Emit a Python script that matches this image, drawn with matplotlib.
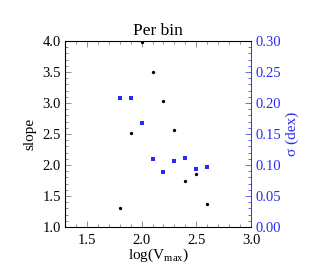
import numpy as np
import matplotlib
matplotlib.use('Agg')
import matplotlib.pyplot as plt
from matplotlib.ticker import MultipleLocator

plt.rcParams['font.family'] = ['Liberation Serif', 'DejaVu Serif']
plt.rcParams['mathtext.fontset'] = 'custom'
plt.rcParams['mathtext.rm'] = 'Liberation Serif'
plt.rcParams['mathtext.it'] = 'Liberation Serif:italic'

# data
logv = [1.8, 1.9, 2.0, 2.1, 2.2, 2.3, 2.4, 2.5, 2.6]
slope = [1.30, 2.51, 3.98, 3.50, 3.03, 2.56, 1.74, 1.86, 1.37]
sigma = [0.208, 0.208, 0.167, 0.109, 0.089, 0.106, 0.112, 0.093, 0.097]

blue = '#2a2af2'
grey = '#666666'

fig = plt.figure(figsize=(3.16, 2.67), dpi=100)
ax = fig.add_axes([65/316, 1 - 227/267, 186/316, 186/267])
ax.plot(logv, slope, 'o', color='black', ms=2.4, mew=0)
ax.set_xlim(1.3, 3.0)
ax.set_ylim(1.0, 4.0)
ax.xaxis.set_major_locator(MultipleLocator(0.5))
ax.xaxis.set_minor_locator(MultipleLocator(0.1))
ax.yaxis.set_major_locator(MultipleLocator(0.5))
ax.yaxis.set_minor_locator(MultipleLocator(0.1))
ax.tick_params(which='both', direction='in', top=True, right=False, labelsize=10.5,
               width=0.5, color=grey, pad=3)
ax.tick_params(axis='x', which='both', pad=5)
ax.tick_params(which='major', length=4)
ax.tick_params(which='minor', length=2)
ax.set_xlabel(r'log(V$_{\mathrm{max}}$)', fontsize=11, labelpad=0)
ax.set_ylabel('slope', fontsize=11, labelpad=4)
ax.set_title('Per bin', fontsize=12.5, pad=4)
for s in ax.spines.values():
    s.set_linewidth(0.6)
    s.set_color(grey)

ax2 = ax.twinx()
ax2.plot(logv, sigma, 's', color=blue, ms=2.8, mew=0)
ax2.set_ylim(0.0, 0.3)
ax2.yaxis.set_major_locator(MultipleLocator(0.05))
ax2.yaxis.set_minor_locator(MultipleLocator(0.01))
ax2.tick_params(which='both', direction='in', colors=blue, labelsize=10.5, width=0.5, pad=3)
ax2.tick_params(which='major', length=4)
ax2.tick_params(which='minor', length=2)
ax2.set_ylabel(r'σ (dex)', color=blue, fontsize=11, labelpad=3)
ax2.spines['right'].set_color(blue)
ax2.spines['right'].set_linewidth(0.6)
ax2.yaxis.set_major_formatter(plt.FuncFormatter(lambda v, p: '%.2f' % v))
ax.yaxis.set_major_formatter(plt.FuncFormatter(lambda v, p: '%.1f' % v))
ax.xaxis.set_major_formatter(plt.FuncFormatter(lambda v, p: '%.1f' % v))

fig.savefig('out.png', dpi=100)
